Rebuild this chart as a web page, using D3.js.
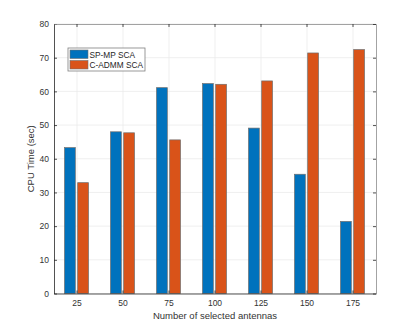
<!DOCTYPE html>
<html>
<head>
<meta charset="utf-8">
<script src="https://cdn.jsdelivr.net/npm/d3@7"></script>
<style>
  body { margin: 0; background: #fff; }
  text { font-family: "Liberation Sans", Arial, sans-serif; }
</style>
</head>
<body>
<div id="chart"></div>
<script>
// data
var categories = ["25", "50", "75", "100", "125", "150", "175"];
var seriesNames = ["SP-MP SCA", "C-ADMM SCA"];
var spmp = [43.3, 48.0, 61.1, 62.3, 49.1, 35.4, 21.4];
var cadmm = [32.9, 47.7, 45.6, 62.1, 63.1, 71.4, 72.4];
var yTicks = [0, 10, 20, 30, 40, 50, 60, 70, 80];
var colors = ["#0072BD", "#D95319"];

var W = 415, H = 330;
var margin = { top: 24, right: 39, bottom: 36.5, left: 54 };
var width = W - margin.left - margin.right,
    height = H - margin.top - margin.bottom;

var svg = d3.select("#chart").append("svg")
    .attr("width", W).attr("height", H)
  .append("g")
    .attr("transform", "translate(" + margin.left + "," + margin.top + ")");

var x = d3.scaleBand().domain(categories).range([0, width]);
var y = d3.scaleLinear().domain([0, 80]).range([height, 0]);
var xs = d3.scaleBand().domain([0, 1]).range([-12.5, 11.5]).paddingInner(0.18);

// grid
svg.append("g").selectAll("line").data(yTicks).enter().append("line")
    .attr("x1", 0).attr("x2", width)
    .attr("y1", function (d) { return y(d); }).attr("y2", function (d) { return y(d); })
    .attr("stroke", "#ebebeb").attr("stroke-width", 0.8);
svg.append("g").selectAll("line").data(categories).enter().append("line")
    .attr("x1", function (d) { return x(d) + x.bandwidth() / 2; })
    .attr("x2", function (d) { return x(d) + x.bandwidth() / 2; })
    .attr("y1", 0).attr("y2", height)
    .attr("stroke", "#ebebeb").attr("stroke-width", 0.8);

// bars
var groups = [spmp, cadmm];
groups.forEach(function (vals, s) {
  svg.append("g").selectAll("rect").data(vals).enter().append("rect")
      .attr("x", function (d, i) { return x(categories[i]) + x.bandwidth() / 2 + xs(s); })
      .attr("width", xs.bandwidth())
      .attr("y", function (d) { return y(d); })
      .attr("height", function (d) { return height - y(d); })
      .attr("fill", colors[s])
      .attr("stroke", "#6e6e6e").attr("stroke-width", 0.7);
});

// axes (ticks inward, box)
var axL = svg.append("g").call(d3.axisLeft(y).tickValues(yTicks).tickSizeInner(-3).tickSizeOuter(0).tickPadding(5));
var axB = svg.append("g").attr("transform", "translate(0," + height + ")")
    .call(d3.axisBottom(x).tickSizeInner(-3).tickSizeOuter(0).tickPadding(6));
var axT = svg.append("g").call(d3.axisTop(x).tickSizeInner(-3).tickSizeOuter(0).tickFormat(""));
var axR = svg.append("g").attr("transform", "translate(" + width + ",0)")
    .call(d3.axisRight(y).tickValues(yTicks).tickSizeInner(-3).tickSizeOuter(0).tickFormat(""));
[axL, axB, axT, axR].forEach(function (a) {
  a.select(".domain").attr("stroke", "#262626").attr("stroke-width", 0.8);
  a.selectAll(".tick line").attr("stroke", "#262626").attr("stroke-width", 0.8);
  a.selectAll("text").attr("fill", "#333").style("font-size", "8.5px");
});
axT.select(".domain").attr("stroke", "#8c8c8c");
axR.select(".domain").attr("stroke", "#8c8c8c");

// axis labels
svg.append("text")
    .attr("x", width / 2).attr("y", height + 25)
    .attr("text-anchor", "middle").attr("fill", "#333")
    .style("font-size", "9.5px")
    .text("Number of selected antennas");
svg.append("text")
    .attr("transform", "translate(-20," + (height / 2) + ") rotate(-90)")
    .attr("text-anchor", "middle").attr("fill", "#333")
    .style("font-size", "9.5px")
    .text("CPU Time (sec)");

// legend
var lg = svg.append("g").attr("transform", "translate(14,24)");
lg.append("rect").attr("width", 77).attr("height", 23)
    .attr("fill", "#fff").attr("stroke", "#7f7f7f").attr("stroke-width", 0.8);
seriesNames.forEach(function (n, i) {
  lg.append("rect").attr("x", 2).attr("y", 2 + i * 10.5)
      .attr("width", 18).attr("height", 8.5)
      .attr("fill", colors[i]).attr("stroke", "#6e6e6e").attr("stroke-width", 0.6);
  lg.append("text").attr("x", 21.5).attr("y", 9.5 + i * 10.5)
      .attr("fill", "#262626").style("font-size", "8.3px")
      .text(n);
});
</script>
</body>
</html>
